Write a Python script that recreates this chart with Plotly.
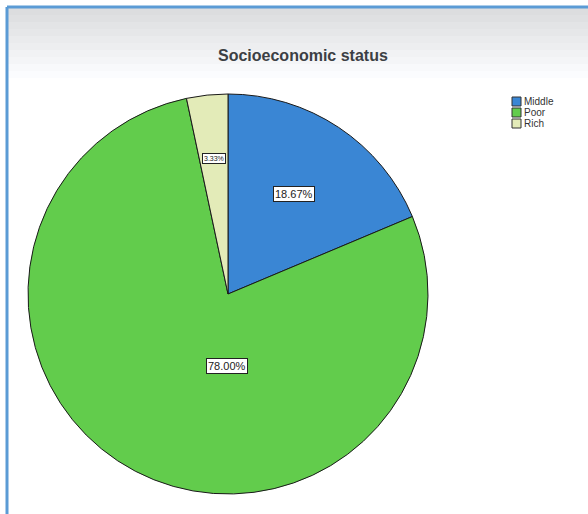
import math
import plotly.graph_objects as go

categories = ["Middle", "Poor", "Rich"]
percentages = [18.67, 78.00, 3.33]
colors = ["#3a86d4", "#62cc4c", "#e3ebb8"]
label_radius = [0.6, 0.36, 0.68]
label_frac = [0.5, 0.404, 0.5]
label_sizes = [11, 11, 7]

W, H = 588, 514
L, R, T, B = 28, 160, 94, 20
PW, PH = W - L - R, H - T - B


def px(x):
    return (x - L) / PW


def py(y):
    return (H - B - y) / PH


fig = go.Figure()
fig.add_trace(go.Pie(
    labels=categories, values=percentages, sort=False, direction="clockwise",
    rotation=0, marker=dict(colors=colors, line=dict(color="#1a1a1a", width=1)),
    textinfo="none", hoverinfo="label+percent", showlegend=False,
    domain=dict(x=[0, 1], y=[0, 1]),
))

shapes = []
annotations = []

# header gradient
bands = 10
for i in range(bands):
    y0 = 8 + i * 7
    g = int(220 + (255 - 220) * i / bands)
    shapes.append(dict(type="rect", xref="paper", yref="paper", layer="below",
                       x0=px(8), x1=px(W), y0=py(y0), y1=py(y0 + 7),
                       fillcolor=f"rgb({g},{g+1},{g+3})", line=dict(width=0)))
# blue frame lines
shapes.append(dict(type="line", xref="paper", yref="paper", x0=px(7), x1=px(W),
                   y0=py(7), y1=py(7), line=dict(color="#5b9bd5", width=3)))
shapes.append(dict(type="line", xref="paper", yref="paper", x0=px(7), x1=px(7),
                   y0=py(7), y1=py(H), line=dict(color="#5b9bd5", width=3)))

# slice labels
total = sum(percentages)
cum = 0.0
for cat, v, f, fr, fs in zip(categories, percentages, label_radius, label_frac, label_sizes):
    ang = (cum + fr * v) / total * 2 * math.pi
    cum += v
    annotations.append(dict(
        x=0.5 + f * 0.5 * math.sin(ang), y=0.5 + f * 0.5 * math.cos(ang),
        xref="paper", yref="paper", text=f"{v:.2f}%", showarrow=False,
        xanchor="center", yanchor="middle",
        font=dict(family="Liberation Sans, Arial", size=fs, color="#222"),
        bgcolor="white", bordercolor="#222", borderwidth=1, borderpad=1,
    ))

# legend
for i, (cat, c) in enumerate(zip(categories, colors)):
    y0 = 97 + i * 11
    shapes.append(dict(type="rect", xref="paper", yref="paper",
                       x0=px(512), x1=px(521), y0=py(y0), y1=py(y0 + 9),
                       fillcolor=c, line=dict(color="#333", width=1)))
    annotations.append(dict(x=px(522), y=py(y0 + 4.5), xref="paper", yref="paper",
                            text=cat, showarrow=False, xanchor="left", yanchor="middle",
                            font=dict(family="Liberation Sans, Arial", size=10, color="#333")))

# title
annotations.append(dict(x=px(303), y=py(55), xref="paper", yref="paper",
                        text="<b>Socioeconomic status</b>", showarrow=False,
                        xanchor="center", yanchor="middle",
                        font=dict(family="Liberation Sans, Arial", size=16, color="#3c3f44")))

fig.update_layout(
    width=W, height=H, margin=dict(l=L, r=R, t=T, b=B, autoexpand=False),
    paper_bgcolor="white", plot_bgcolor="white",
    shapes=shapes, annotations=annotations, showlegend=False,
)

fig.write_html("out.html")
